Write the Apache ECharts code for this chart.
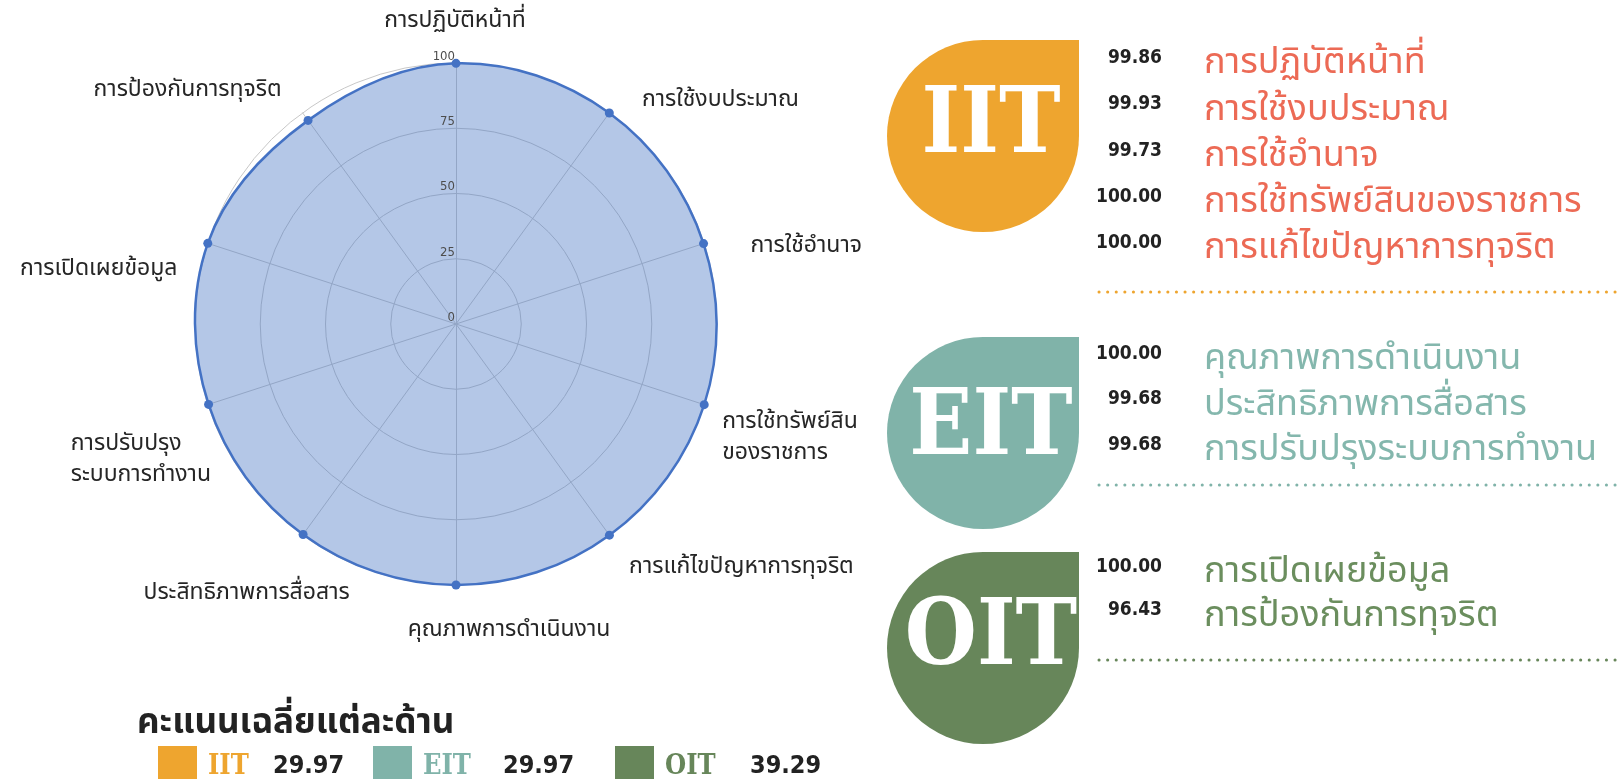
<!DOCTYPE html>
<html><head><meta charset="utf-8">
<script src="https://cdn.jsdelivr.net/npm/echarts@6/dist/echarts.min.js"></script>
<style>html,body{margin:0;padding:0;background:#fff;overflow:hidden}#c{width:1621px;height:779px}</style>
</head><body><div id="c"></div>
<script>
// ---- data ----
const axisNames = ['การปฏิบัติหน้าที่','การใช้งบประมาณ','การใช้อำนาจ','การใช้ทรัพย์สิน\nของราชการ','การแก้ไขปัญหาการทุจริต','คุณภาพการดำเนินงาน','ประสิทธิภาพการสื่อสาร','การปรับปรุง\nระบบการทำงาน','การเปิดเผยข้อมูล','การป้องกันการทุจริต'];
const axisScores = [99.86, 99.93, 99.73, 100.00, 100.00, 100.00, 99.68, 99.68, 100.00, 96.43];
const radialTicks = [0, 25, 50, 75, 100];
const groupNames = ['IIT', 'EIT', 'OIT'];
const groupAverages = [29.97, 29.97, 39.29];
const iitLabels = ['การปฏิบัติหน้าที่','การใช้งบประมาณ','การใช้อำนาจ','การใช้ทรัพย์สินของราชการ','การแก้ไขปัญหาการทุจริต'];
const iitScores = [99.86, 99.93, 99.73, 100.00, 100.00];
const eitLabels = ['คุณภาพการดำเนินงาน','ประสิทธิภาพการสื่อสาร','การปรับปรุงระบบการทำงาน'];
const eitScores = [100.00, 99.68, 99.68];
const oitLabels = ['การเปิดเผยข้อมูล','การป้องกันการทุจริต'];
const oitScores = [100.00, 96.43];
const legendTitle = 'คะแนนเฉลี่ยแต่ละด้าน';

// ---- styles / layout ----
const thai = "'Noto Sans Thai','Noto Sans Thai UI','Noto Sans','DejaVu Sans',sans-serif";
const slab = "'DejaVu Serif Condensed','DejaVu Serif',serif";
const cond = "'DejaVu Sans Condensed','DejaVu Sans',sans-serif";
const groupColors = ['#eea52f', '#80b3a9', '#67865a'];
const groupTextColors = ['#ec6a55', '#84b7ad', '#6b8e5e'];
const C = [456, 324], R = 261;
// axis-name placement relative to the 100-point of each axis: [align, dx, dy]
const nameLayout = [
  ['center', -1, -41], ['center', 111, -12], ['center', 102, 4], ['left', 18, 34],
  ['center', 132, 33], ['center', 53, 46], ['center', -56, 59], ['left', -137, 56],
  ['center', -109, 27], ['center', -115, -22]
];
const axisMax = radialTicks[radialTicks.length - 1];

// radar component only draws the grid; indicator order counter-clockwise so the picture reads clockwise
const order = [0].concat(axisNames.map((_, i) => i).slice(1).reverse());

const chart = echarts.init(document.getElementById('c'), null, {renderer: 'canvas'});

const graphics = [];
const blocks = [
  {labels: iitLabels, scores: iitScores, cy: 136, textY: 128, rowY: 58, step: 46.3, dotY: 292},
  {labels: eitLabels, scores: eitScores, cy: 433, textY: 430, rowY: 354, step: 45.5, dotY: 485},
  {labels: oitLabels, scores: oitScores, cy: 648, textY: 640, rowY: 567, step: 43.5, dotY: 660}
];
const TX = 983, TR = 96;
blocks.forEach((b, g) => {
  graphics.push({type: 'circle', shape: {cx: TX, cy: b.cy, r: TR}, style: {fill: groupColors[g]}, z: 1});
  graphics.push({type: 'rect', shape: {x: TX, y: b.cy - TR, width: TR, height: TR}, style: {fill: groupColors[g]}, z: 1});
  graphics.push({type: 'text', x: 991, y: b.textY, style: {text: groupNames[g], fill: '#fff',
    font: `bold 92px ${slab}`, textAlign: 'center', textVerticalAlign: 'middle'}, z: 2});
  b.labels.forEach((lab, i) => {
    const y = b.rowY + b.step * i;
    graphics.push({type: 'text', x: 1162, y: y, style: {text: b.scores[i].toFixed(2), fill: '#222',
      font: `bold 19px ${cond}`, textAlign: 'right', textVerticalAlign: 'middle'}});
    graphics.push({type: 'text', x: 1204, y: y + 8, style: {text: lab, fill: groupTextColors[g],
      font: `36px ${thai}`, textAlign: 'left', textVerticalAlign: 'middle'}});
  });
  graphics.push({type: 'line', shape: {x1: 1099, y1: b.dotY, x2: 1621, y2: b.dotY},
    style: {stroke: groupColors[g], lineWidth: 3, lineDash: [0.1, 8.5], lineCap: 'round'}});
});
// bottom legend
graphics.push({type: 'text', x: 137, y: 726, style: {text: legendTitle, fill: '#222', font: `bold 35px ${thai}`, textAlign: 'left', textVerticalAlign: 'middle'}});
const legX = [158, 373, 615];
const legNumDx = [115, 130, 135];
groupNames.forEach((n, g) => {
  const x = legX[g];
  graphics.push({type: 'rect', shape: {x: x, y: 746, width: 39, height: 40}, style: {fill: groupColors[g]}});
  graphics.push({type: 'text', x: x + 50, y: 767, style: {text: n, fill: groupColors[g],
    font: `bold 27px ${slab}`, textAlign: 'left', textVerticalAlign: 'middle'}});
  graphics.push({type: 'text', x: x + legNumDx[g], y: 766, style: {text: groupAverages[g].toFixed(2), fill: '#222',
    font: `bold 25px ${cond}`, textAlign: 'left', textVerticalAlign: 'middle'}});
});

function renderRadar(params, api) {
  const n = axisNames.length;
  const pts = axisNames.map((_, i) => api.coord([api.value(i), i * 360 / n]));
  const children = [{
    type: 'polygon', z2: 1,
    shape: {points: pts, smooth: 0.36},
    style: {fill: 'rgba(68,114,196,0.4)', stroke: '#4472c4', lineWidth: 2.5}
  }];
  pts.forEach(p => children.push({type: 'circle', z2: 2, shape: {cx: p[0], cy: p[1], r: 4.5}, style: {fill: '#4472c4'}}));
  axisNames.forEach((name, i) => {
    const a = api.coord([axisMax, i * 360 / n]);
    const L = nameLayout[i];
    children.push({type: 'text', z2: 3, x: a[0] + L[1], y: a[1] + L[2], style: {
      text: name, fill: '#262626', font: `23px ${thai}`, lineHeight: 31,
      textAlign: L[0], textVerticalAlign: 'middle'}});
  });
  return {type: 'group', children};
}

chart.setOption({
  animation: false,
  backgroundColor: '#fff',
  radar: {
    center: C, radius: R, shape: 'circle', startAngle: 90, splitNumber: 4,
    indicator: order.map(i => ({name: axisNames[i], min: 0, max: axisMax})),
    axisName: {show: false},
    splitLine: {lineStyle: {color: '#c8c8c8', width: 1}},
    splitArea: {show: false},
    axisLine: {lineStyle: {color: '#c8c8c8', width: 1}},
    axisTick: {show: false},
    axisLabel: {show: false}
  },
  polar: {center: C, radius: R},
  angleAxis: {type: 'value', min: 0, max: 360, startAngle: 90, clockwise: true, show: false},
  radiusAxis: {
    type: 'value', min: radialTicks[0], max: axisMax,
    interval: radialTicks[1] - radialTicks[0], z: 10,
    axisLine: {show: false}, axisTick: {show: false}, splitLine: {show: false},
    axisLabel: {color: '#4d4d4d', fontSize: 13, fontFamily: "'Liberation Sans Narrow','DejaVu Sans Condensed',sans-serif",
      margin: 1, align: 'right', verticalAlign: 'bottom'}
  },
  series: [{
    type: 'custom', coordinateSystem: 'polar',
    dimensions: axisNames.map((_, i) => 'a' + i),
    encode: {radius: 0, angle: 1},
    data: [axisScores],
    renderItem: renderRadar,
    silent: true
  }],
  graphic: graphics
});
</script></body></html>
